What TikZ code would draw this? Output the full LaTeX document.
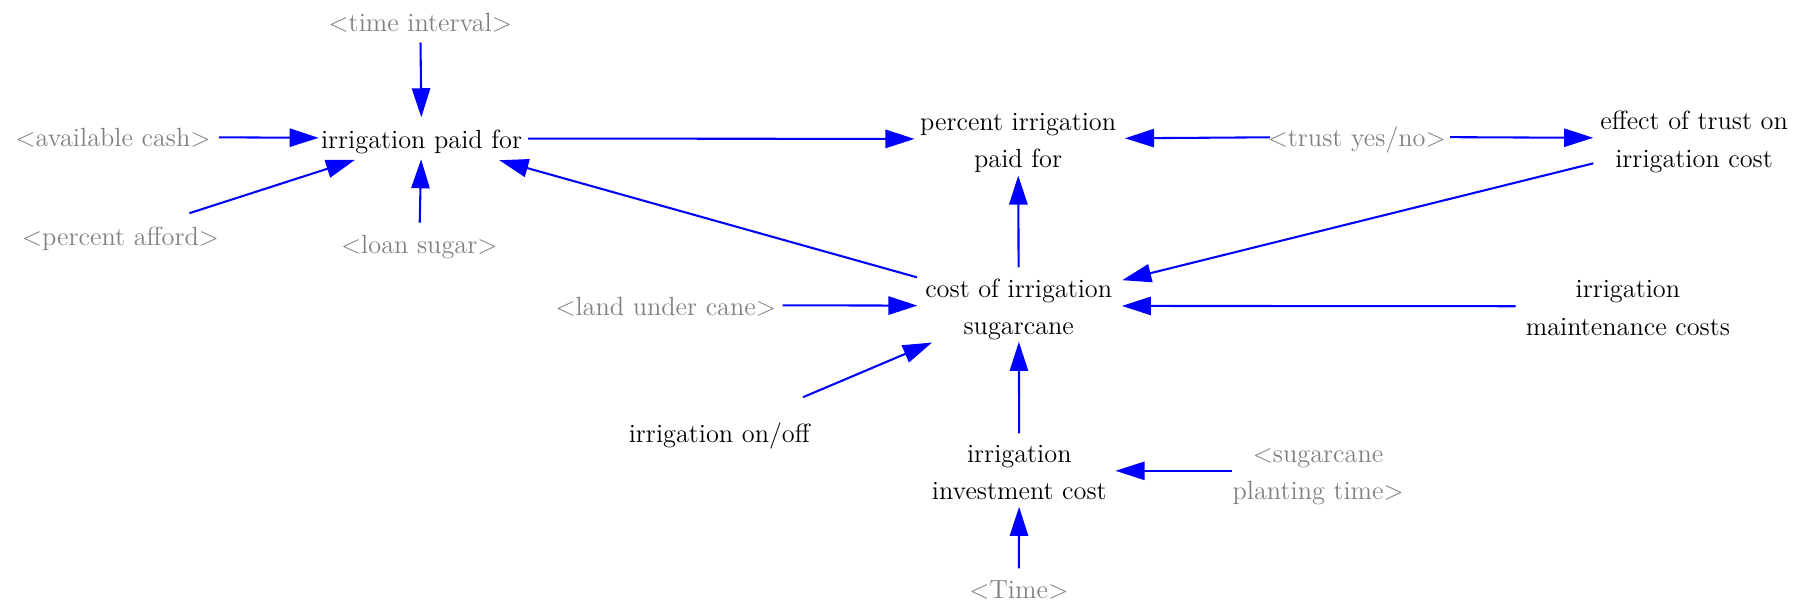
\documentclass[tikz,border=0pt]{standalone}
\usetikzlibrary{arrows.meta}
% line strut: keeps every text line the same height so node centres sit on the text
\newcommand{\ls}{\rule[-3.8pt]{0pt}{16.3pt}}
\begin{document}
\begin{tikzpicture}[x=0.5pt,y=-0.5pt,
  var/.style={inner sep=0pt, align=center, font=\fontsize{11.4}{16.3}\selectfont, text=black},
  shadow/.style={var, text=gray},
  link/.style={draw=blue, line width=0.9pt, -{Triangle[length=12.6pt,width=7.9pt]}},
]
\useasboundingbox (0,0) rectangle (1568,524);

% variables
\node[shadow] (timeint) at (364.3,18.8) {\ls<time interval>};
\node[shadow] (avail)   at (98,118.5)   {\ls<available cash>};
\node[var]    (paid)    at (365.4,120)  {\ls irrigation paid for};
\node[shadow] (afford)  at (104.5,204)  {\ls<percent afford>};
\node[shadow] (loan)    at (363.4,211)  {\ls<loan sugar>};
\node[var]    (pct)     at (882.5,120.5){\ls percent irrigation\\\ls paid for};
\node[shadow] (trust)   at (1176,118.5) {\ls<trust yes/no>};
\node[var]    (effect)  at (1468.4,119.9){\ls effect of trust on\\\ls irrigation cost};
\node[var]    (cost)    at (883,265.1)  {\ls cost of irrigation\\\ls sugarcane};
\node[shadow] (land)    at (577,264.4)  {\ls<land under cane>};
\node[var]    (maint)   at (1411,265.5) {\ls irrigation\\\ls maintenance costs};
\node[var]    (onoff)   at (623.5,375)  {\ls irrigation on/off};
\node[var]    (invest)  at (883.5,408.1){\ls irrigation\\\ls investment cost};
\node[shadow] (plant)   at (1142.5,408.1){\ls<sugarcane\\\ls planting time>};
\node[shadow] (Time)    at (883,510)    {\ls<Time>};

% causal links
\draw[link, shorten <=9.1pt,  shorten >=9.15pt] (timeint.center) -- (paid.center);
\draw[link, shorten <=45.9pt, shorten >=44.6pt] (avail.center) -- (paid.center);
\draw[link, shorten <=31.4pt, shorten >=30.3pt] (afford.center) -- (paid.center);
\draw[link, shorten <=9pt,    shorten >=9pt]    (loan.center) -- (paid.center);
\draw[link, shorten <=46.2pt, shorten >=44.9pt] (paid.center) -- (pct.center);
\draw[link, shorten <=37.7pt, shorten >=46.3pt] (trust.center) -- (pct.center);
\draw[link, shorten <=40.5pt, shorten >=43.7pt] (trust.center) -- (effect.center);
\draw[link, shorten <=16.7pt, shorten >=15.8pt] (cost.center) -- (pct.center);
\draw[link, shorten <=45.8pt, shorten >=35pt]   (cost.center) -- (paid.center);
\draw[link, shorten <=45pt,   shorten >=46.2pt] (effect.center) -- (cost.center);
\draw[link, shorten <=50.7pt, shorten >=43.9pt] (land.center) -- (cost.center);
\draw[link, shorten <=48.7pt, shorten >=44.7pt] (maint.center) -- (cost.center);
\draw[link, shorten <=39.4pt, shorten >=40.8pt] (onoff.center) -- (cost.center);
\draw[link, shorten <=16.2pt, shorten >=15.6pt] (invest.center) -- (cost.center);
\draw[link, shorten <=37.3pt, shorten >=41.7pt] (plant.center) -- (invest.center);
\draw[link, shorten <=8.7pt,  shorten >=15.6pt] (Time.center) -- (invest.center);
\end{tikzpicture}
\end{document}
